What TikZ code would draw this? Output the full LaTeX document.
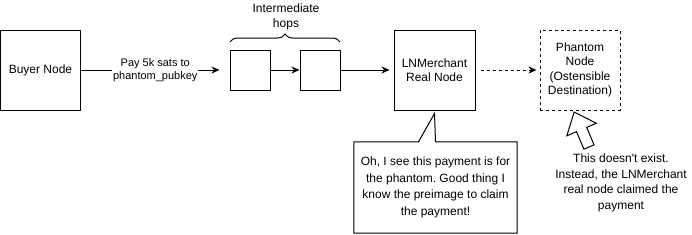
\documentclass[tikz,border=0pt]{standalone}
\usepackage{fontspec}
\setmainfont{Liberation Sans}
\usetikzlibrary{arrows.meta, positioning, decorations.pathreplacing}
\frenchspacing

\begin{document}
\begin{tikzpicture}[
		x=1pt, y=-1pt,
		every node/.style={
				font=\fontsize{12}{14.5}\selectfont,
				align=center
			},
		box/.style={draw, line width=1pt, minimum width=80pt, minimum height=80pt, inner sep=2pt},
		hop/.style={draw, line width=1pt, minimum size=40pt},
		ghost/.style={box, dash pattern=on 3pt off 3pt},
		link/.style={-{Stealth[length=8pt, width=7pt, inset=2.5pt]}, line width=1pt}
	]
	\useasboundingbox (0,0) rectangle (692,234);

	\node[box] (buyer) at (40.5,70) {Buyer Node};
	\node[hop] (hop1) at (250,70) {};
	\node[hop] (hop2) at (320,70) {};
	\node[box, minimum width=81pt] (merchant) at (434.5,70) {LNMerchant\\Real Node};
	\node[ghost] (phantom) at (580,70) {Phantom\\Node\\(Ostensible\\Destination)};

	% brace over the hops
	\draw[line width=1pt, decorate, decoration={brace, amplitude=8pt}] (230,42) -- (340,42);
	\node (hopslabel) at (286,17) {Intermediate\\hops};

	\draw[link, shorten >=10pt] (buyer) -- node[fill=white, inner sep=1pt, font=\fontsize{11}{13}\selectfont] (paylabel) {Pay 5k sats to\\phantom\_pubkey} (hop1);
	\draw[link] (hop1) -- (hop2);
	\draw[link, shorten >=4pt] (hop2) -- (merchant);
	\draw[link, dash pattern=on 3pt off 3pt, shorten <=5pt, shorten >=3pt] (merchant) -- (phantom);

	% speech bubble
	\node[minimum width=163pt, minimum height=91pt, font=\fontsize{12}{16.5}\selectfont] (note) at (435.5,187.5)
		{Oh, I see this payment is for\\the phantom. Good thing I\\know the preimage to claim\\the payment!};
	\draw[line width=1pt] (note.north west) -- ([xshift=-17pt]note.north) -- ([yshift=-3pt]merchant.south)
		-- (note.north) -- (note.north east) -- (note.south east) -- (note.south west) -- cycle;

	% hollow pointer at the phantom
	\begin{scope}[shift={(589,147)}, rotate=113]
		\draw[line width=1pt, fill=white] (0,-5.5) -- (19,-5.5) -- (19,-16) -- (38,0) -- (19,16) -- (19,5.5) -- (0,5.5) -- cycle;
	\end{scope}
	\node[font=\fontsize{12}{15.5}\selectfont] (remark) at (621,183)
		{This doesn\textquotesingle t exist.\\Instead, the LNMerchant\\real node claimed the\\payment};
\end{tikzpicture}
\end{document}
